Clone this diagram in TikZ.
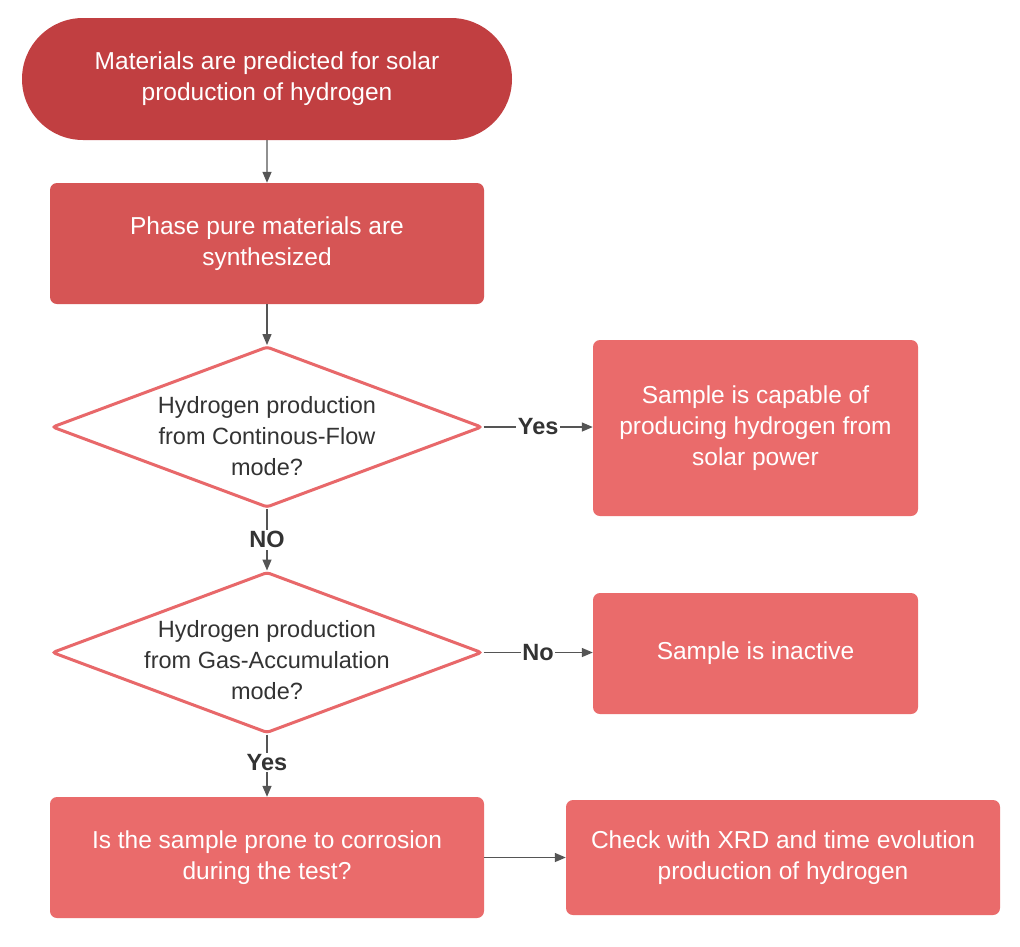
\documentclass[tikz,border=0pt]{standalone}
\usepackage{fontspec}
\setmainfont{Liberation Sans}
\usetikzlibrary{shapes.geometric,shapes.misc,arrows.meta}
\definecolor{topred}{HTML}{C13F41}
\definecolor{midred}{HTML}{D65555}
\definecolor{lightred}{HTML}{EA6B6B}
\definecolor{diared}{HTML}{E8686A}
\definecolor{arrowgray}{HTML}{555555}
\definecolor{darktext}{HTML}{333333}
\tikzset{
  txt/.style={font=\fontsize{24.5}{31}\selectfont, align=center},
  startbox/.style={shape=rounded rectangle, fill=topred, text=white, txt,
    minimum width=490pt, minimum height=122pt, inner sep=0pt},
  procbox/.style={rectangle, rounded corners=7pt, text=white, txt, inner sep=0pt},
  dia/.style={diamond, draw=diared, line width=3pt, fill=white, rounded corners=3pt,
    minimum width=430pt, minimum height=161pt, inner sep=0pt},
  diatext/.style={font=\fontsize{23.5}{31}\selectfont, align=center, text=darktext},
  conn/.style={draw=arrowgray, line width=1.4pt, -{Triangle[length=11pt,width=9pt]}},
  lbl/.style={font=\fontsize{23.5}{26}\selectfont\bfseries, text=darktext, fill=white, inner sep=1.5pt},
}
\begin{document}
\begin{tikzpicture}[x=1pt,y=-1pt]
\useasboundingbox[fill=white] (0,0) rectangle (1020,946);

\node[startbox] (start) at (267,79) {Materials are predicted for solar\\production of hydrogen};
\node[procbox, fill=midred, minimum width=434pt, minimum height=121pt] (synth) at (267,243.5) {Phase pure materials are\\synthesized};
\node[dia] (d1) at (267,427) {};
\node[diatext] (d1t) at (267,436) {Hydrogen production\\from Continous-Flow\\mode?};
\node[procbox, fill=lightred, minimum width=325pt, minimum height=176pt] (capable) at (755.5,428) {Sample is capable of\\producing hydrogen from\\solar power};
\node[dia] (d2) at (267,652.5) {};
\node[diatext] (d2t) at (267,660) {Hydrogen production\\from Gas-Accumulation\\mode?};
\node[procbox, fill=lightred, minimum width=325pt, minimum height=121pt] (inactive) at (755.5,653.5) {Sample is inactive};
\node[procbox, fill=lightred, minimum width=434pt, minimum height=121pt] (corr) at (267,857.5) {Is the sample prone to corrosion\\during the test?};
\node[procbox, fill=lightred, minimum width=434pt, minimum height=115pt] (xrd) at (783,857.5) {Check with XRD and time evolution\\production of hydrogen};

\draw[conn] (start) -- (synth);
\draw[conn] (synth) -- (d1);
\draw[conn] (d1.east) -- node[lbl] {Yes} (d1.east -| capable.west);
\draw[conn] (d1) -- node[lbl] {NO} (d2);
\draw[conn] (d2.east) -- node[lbl] {No} (d2.east -| inactive.west);
\draw[conn] (d2) -- node[lbl, pos=0.45] {Yes} (corr);
\draw[conn] (corr) -- (xrd);
\end{tikzpicture}
\end{document}
